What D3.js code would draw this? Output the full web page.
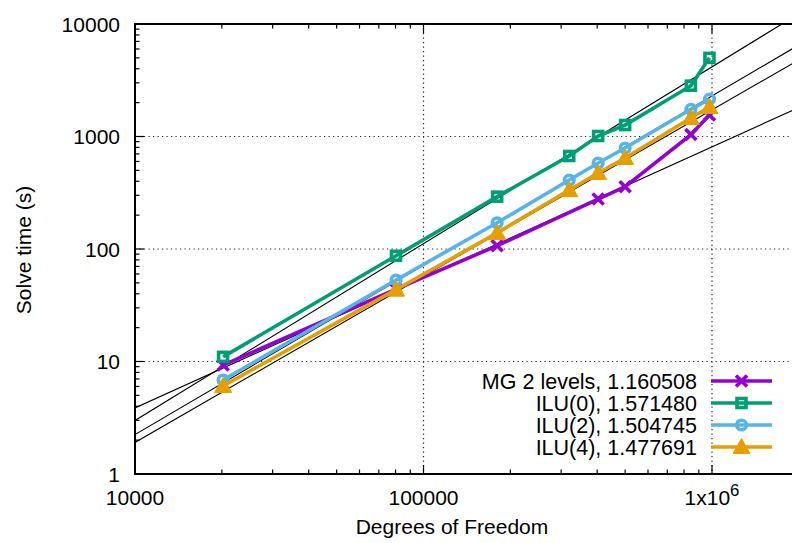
<!DOCTYPE html>
<html>
<head>
<meta charset="utf-8">
<script src="https://cdn.jsdelivr.net/npm/d3@7"></script>
<style>
  html, body { margin: 0; padding: 0; background: #fff; }
  svg { display: block; font-family: "Liberation Sans", Arial, Helvetica, sans-serif; }
</style>
</head>
<body>
<svg id="chart" width="792" height="543"></svg>
<script>
// Problem sizes (degrees of freedom) shared by all solver runs
const dof = [20200, 80300, 180000, 320000, 403000, 500000, 845000, 980000];

// Solve times in seconds; null where a run is missing
const mgTimes   = [9.3, 44, 107, null, 278, 358, 1040, 1550];
const ilu0Times = [11.0, 87, 292, 671, 1010, 1265, 2830, 5000];
const ilu2Times = [6.85, 53, 171, 410, 581, 790, 1745, 2150];
const ilu4Times = [6.06, 43.5, 139, 334, 474, 644, 1460, 1830];

// Power-law fits t = a * n^b : exponents as labelled, log10(a) coefficients
const seriesNames   = ["MG 2 levels", "ILU(0)", "ILU(2)", "ILU(4)"];
const fitExponents  = [1.160508, 1.571480, 1.504745, 1.477691];
const fitLogCoeffs  = [-4.055, -5.81, -5.668, -5.63];
const seriesColors  = ["#9400d3", "#009e73", "#56b4e9", "#e69f00"];
const seriesMarkers = ["cross", "square", "circle", "triangle"];

const xTickValues = [1e4, 1e5, 1e6];
const yTickValues = [1, 10, 100, 1000, 10000];

const series = [mgTimes, ilu0Times, ilu2Times, ilu4Times].map((vals, i) => ({
  name: seriesNames[i],
  exponent: fitExponents[i],
  logCoeff: fitLogCoeffs[i],
  color: seriesColors[i],
  marker: seriesMarkers[i],
  points: dof.map((n, j) => ({ n, t: vals[j] })).filter(p => p.t != null)
}));

const svg = d3.select("#chart");
const plotLeft = 135, plotTop = 24, plotBottom = 474;
const decadePx = 288.5;
const plotRight = 800;

const x = d3.scaleLog().domain([1e4, 1e7]).range([plotLeft, plotLeft + 3 * decadePx]);
const y = d3.scaleLog().domain([1, 1e4]).range([plotBottom, plotTop]);

const FONT = 21;

svg.append("defs").append("clipPath").attr("id", "plotClip")
  .append("rect").attr("x", plotLeft).attr("y", plotTop)
  .attr("width", plotRight - plotLeft).attr("height", plotBottom - plotTop);

// Grid
const grid = svg.append("g").attr("stroke", "#222").attr("stroke-width", 1.2)
  .attr("stroke-dasharray", "1.2,3.3");
xTickValues.filter(v => v > 1e4).forEach(v => {
  grid.append("line").attr("x1", x(v)).attr("x2", x(v)).attr("y1", plotTop).attr("y2", plotBottom);
});
yTickValues.filter(v => v > 1 && v < 1e4).forEach(v => {
  grid.append("line").attr("x1", plotLeft).attr("x2", plotRight).attr("y1", y(v)).attr("y2", y(v));
});

// Ticks (major and minor), mirrored on the top border
const ticks = svg.append("g").attr("stroke", "#000").attr("stroke-width", 1.2);
const xAll = [];
for (let e = 4; e < 7; e++) for (let m = 1; m <= 9; m++) xAll.push({ v: m * Math.pow(10, e), major: m === 1 });
xAll.forEach(t => {
  const px = x(t.v), len = t.major ? 9 : 4.5;
  if (px > plotRight) return;
  ticks.append("line").attr("x1", px).attr("x2", px).attr("y1", plotBottom).attr("y2", plotBottom - len);
  ticks.append("line").attr("x1", px).attr("x2", px).attr("y1", plotTop).attr("y2", plotTop + len);
});
for (let e = 0; e < 4; e++) for (let m = 1; m <= 9; m++) {
  const v = m * Math.pow(10, e), len = m === 1 ? 9 : 4.5;
  ticks.append("line").attr("x1", plotLeft).attr("x2", plotLeft + len).attr("y1", y(v)).attr("y2", y(v));
}

// Fit lines
const fitG = svg.append("g").attr("clip-path", "url(#plotClip)");
series.forEach(s => {
  const n0 = 1e4, n1 = 1e7;
  const f = n => Math.pow(10, s.logCoeff + s.exponent * Math.log10(n));
  fitG.append("line")
    .attr("x1", x(n0)).attr("y1", y(f(n0)))
    .attr("x2", x(n1)).attr("y2", y(f(n1)))
    .attr("stroke", "#000").attr("stroke-width", 1.1);
});

// Marker drawing
function drawMarker(g, kind, cx, cy, color) {
  if (kind === "cross") {
    const r = 5.5;
    g.append("path").attr("d", `M${cx - r},${cy - r}L${cx + r},${cy + r}M${cx - r},${cy + r}L${cx + r},${cy - r}`)
      .attr("stroke", color).attr("stroke-width", 3.6).attr("fill", "none");
  } else if (kind === "square") {
    const s = 9;
    g.append("rect").attr("x", cx - s / 2).attr("y", cy - s / 2).attr("width", s).attr("height", s)
      .attr("stroke", color).attr("stroke-width", 3.6).attr("fill", "none");
  } else if (kind === "circle") {
    g.append("circle").attr("cx", cx).attr("cy", cy).attr("r", 4.8)
      .attr("stroke", color).attr("stroke-width", 3.6).attr("fill", "none");
  } else {
    const w = 8.5, h = 7.5;
    g.append("path").attr("d", `M${cx},${cy - h - 1}L${cx + w},${cy + h - 1}L${cx - w},${cy + h - 1}Z`)
      .attr("fill", color).attr("stroke", color).attr("stroke-width", 1);
  }
}

// Data series
const dataG = svg.append("g").attr("clip-path", "url(#plotClip)");
const line = d3.line().x(d => x(d.n)).y(d => y(d.t));
series.forEach(s => {
  dataG.append("path").datum(s.points).attr("d", line)
    .attr("fill", "none").attr("stroke", s.color).attr("stroke-width", 3.6)
    .attr("stroke-linejoin", "miter");
  s.points.forEach(p => drawMarker(dataG, s.marker, x(p.n), y(p.t), s.color));
});

// Border (left, bottom, top)
svg.append("path")
  .attr("d", `M${plotRight},${plotTop}L${plotLeft},${plotTop}L${plotLeft},${plotBottom}L${plotRight},${plotBottom}`)
  .attr("fill", "none").attr("stroke", "#000").attr("stroke-width", 2);

// Tick labels
const yLab = svg.append("g").attr("font-size", FONT).attr("text-anchor", "end");
yTickValues.forEach(v => {
  yLab.append("text").attr("x", 120).attr("y", y(v)).attr("dy", "0.36em").text(d3.format("d")(v));
});
const xLab = svg.append("g").attr("font-size", FONT).attr("text-anchor", "middle");
xTickValues.forEach(v => {
  const t = xLab.append("text").attr("x", x(v)).attr("y", 505);
  if (v >= 1e6) {
    const e = Math.round(Math.log10(v));
    t.append("tspan").text("1x10");
    t.append("tspan").attr("font-size", FONT * 0.8).attr("dy", -9).text(e);
  } else {
    t.text(d3.format("d")(v));
  }
});

// Axis titles
svg.append("text").attr("x", 452).attr("y", 534).attr("text-anchor", "middle")
  .attr("font-size", FONT).text("Degrees of Freedom");
svg.append("text").attr("transform", "translate(31,250) rotate(-90)").attr("text-anchor", "middle")
  .attr("font-size", FONT).text("Solve time (s)");

// Legend
const legend = svg.append("g");
series.forEach((s, i) => {
  const ly = 381 + i * 22;
  legend.append("text").attr("x", 697).attr("y", ly).attr("dy", "0.36em")
    .attr("text-anchor", "end").attr("font-size", 21.5)
    .text(`${s.name}, ${s.exponent.toFixed(6)}`);
  legend.append("line").attr("x1", 711).attr("x2", 772).attr("y1", ly).attr("y2", ly)
    .attr("stroke", s.color).attr("stroke-width", 3.6);
  drawMarker(legend, s.marker, 741.5, ly, s.color);
});
</script>
</body>
</html>
